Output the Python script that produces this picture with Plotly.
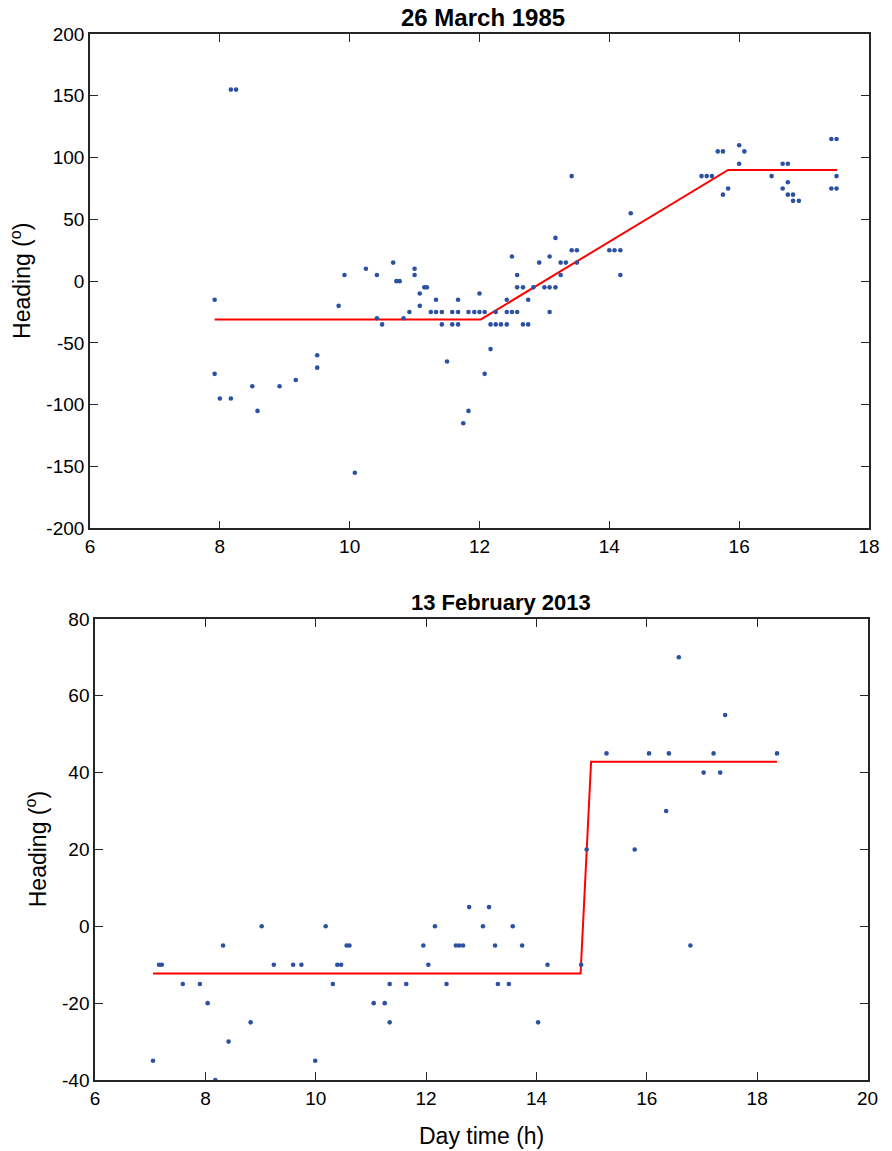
import plotly.graph_objects as go

# ---- Panel 1: 26 March 1985 ----
t1985 = [8.17, 8.25, 7.92, 7.92, 8.00, 8.17, 8.50, 8.58, 8.92, 9.17, 9.50, 9.50,
         9.83, 9.92, 10.08, 10.25, 10.42, 10.42, 10.50, 10.67, 10.72, 10.77, 10.83, 10.92,
         11.00, 11.00, 11.08, 11.08, 11.15, 11.19, 11.25, 11.33, 11.33, 11.42, 11.42, 11.50,
         11.58, 11.58, 11.67, 11.67, 11.67, 11.75, 11.83, 11.83, 11.92, 12.00, 12.00, 12.08,
         12.08, 12.17, 12.17, 12.25, 12.25, 12.33, 12.42, 12.42, 12.42, 12.50, 12.50, 12.58,
         12.58, 12.58, 12.67, 12.67, 12.75, 12.75, 12.83, 12.92, 13.00, 13.08, 13.08, 13.08,
         13.17, 13.17, 13.25, 13.25, 13.33, 13.42, 13.42, 13.50, 13.50, 14.00, 14.08, 14.17,
         14.17, 14.33, 15.42, 15.50, 15.58, 15.67, 15.75, 15.75, 15.83, 16.00, 16.00, 16.08,
         16.50, 16.67, 16.75, 16.67, 16.75, 16.75, 16.83, 16.83, 16.92, 17.42, 17.50, 17.50,
         17.42, 17.50]
h1985 = [155, 155, -15, -75, -95, -95, -85, -105, -85, -80, -60, -70,
         -20, 5, -155, 10, 5, -30, -35, 15, 0, 0, -30, -25,
         10, 5, -10, -20, -5, -5, -25, -15, -25, -25, -35, -65,
         -25, -35, -15, -25, -35, -115, -105, -25, -25, -10, -25, -25,
         -75, -35, -55, -25, -35, -35, -15, -25, -35, 20, -25, 5,
         -5, -25, -5, -35, -15, -35, -5, 15, -5, 20, -5, -25,
         35, -5, 15, 5, 15, 25, 85, 25, 15, 25, 25, 25,
         5, 55, 85, 85, 85, 105, 105, 70, 75, 110, 95, 105,
         85, 95, 95, 75, 80, 70, 70, 65, 65, 115, 115, 85,
         75, 75]
fit1985_t = [7.92, 12.02, 15.83, 17.51]
fit1985_h = [-31, -31, 90, 90]

# ---- Panel 2: 13 February 2013 ----
t2013 = [7.05, 7.16, 7.21, 7.59, 7.90, 8.04, 8.18, 8.32, 8.42, 8.82, 9.02, 9.24,
         9.59, 9.74, 9.99, 10.18, 10.31, 10.39, 10.46, 10.56, 10.61, 11.05, 11.25, 11.34,
         11.34, 11.64, 11.95, 12.04, 12.16, 12.37, 12.54, 12.60, 12.67, 12.78, 13.03, 13.14,
         13.25, 13.30, 13.50, 13.57, 13.74, 14.03, 14.20, 14.81, 14.91, 15.27, 15.78, 16.04,
         16.35, 16.40, 16.58, 16.79, 17.03, 17.21, 17.33, 17.42, 18.36]
h2013 = [-35, -10, -10, -15, -15, -20, -40, -5, -30, -25, 0, -10,
         -10, -10, -35, 0, -15, -10, -10, -5, -5, -20, -20, -15,
         -25, -15, -5, -10, 0, -15, -5, -5, -5, 5, 0, 5,
         -5, -15, -15, 0, -5, -25, -10, -10, 20, 45, 20, 45,
         30, 45, 70, -5, 40, 45, 40, 55, 45]
fit2013_t = [7.05, 14.80, 14.99, 18.36]
fit2013_h = [-12.3, -12.3, 42.8, 42.8]

x1_ticks = [6, 8, 10, 12, 14, 16, 18]
y1_ticks = [-200, -150, -100, -50, 0, 50, 100, 150, 200]
x2_ticks = [6, 8, 10, 12, 14, 16, 18, 20]
y2_ticks = [-40, -20, 0, 20, 40, 60, 80]

titles = ["26 March 1985", "13 February 2013"]
ylabel = "Heading (<sup>o</sup>)"
xlabel = "Day time (h)"

DOT = "#2b51a3"
FONT = "Liberation Sans, Arial, Helvetica, sans-serif"

fig = go.Figure()
fig.add_trace(go.Scatter(x=fit1985_t, y=fit1985_h, mode="lines",
                         line=dict(color="#ff0000", width=2), xaxis="x", yaxis="y"))
fig.add_trace(go.Scatter(x=t1985, y=h1985, mode="markers",
                         marker=dict(color=DOT, size=4.6), xaxis="x", yaxis="y"))
fig.add_trace(go.Scatter(x=fit2013_t, y=fit2013_h, mode="lines",
                         line=dict(color="#ff0000", width=2), xaxis="x2", yaxis="y2"))
fig.add_trace(go.Scatter(x=t2013, y=h2013, mode="markers",
                         marker=dict(color=DOT, size=4.6), xaxis="x2", yaxis="y2"))

common = dict(showline=True, linecolor="#262626", linewidth=1.6, mirror="ticks",
              ticks="inside", ticklen=8, tickwidth=1.4, tickcolor="#262626",
              showgrid=False, zeroline=False,
              tickfont=dict(family=FONT, size=19, color="#000000"))


def labels(vals):
    return [str(v) for v in vals]  # plain hyphen minus, as in the reference


W, H = 892, 1151
L, R, T, B = 90.2, 17, 34.3, H - 1080.5
pw = W - L - R
ph = H - T - B
top_dom = [1 - (528.7 - 34.3) / ph, 1.0]
bot_dom = [0.0, (1080.5 - 619.3) / ph]
bot_xdom = [(95.3 - L) / pw, (873.5 - L) / pw]

fig.update_layout(
    width=W, height=H,
    margin=dict(l=L, r=R, t=T, b=B),
    paper_bgcolor="white", plot_bgcolor="white",
    showlegend=False,
    font=dict(family=FONT, color="#000000"),
    xaxis=dict(common, domain=[0, 1], range=[6, 18], tickvals=x1_ticks,
               ticktext=labels(x1_ticks), anchor="y"),
    yaxis=dict(common, domain=top_dom, range=[-200, 200], tickvals=y1_ticks,
               ticktext=labels(y1_ticks), anchor="x"),
    xaxis2=dict(common, domain=bot_xdom, range=[6, 20], tickvals=x2_ticks,
                ticktext=labels(x2_ticks), anchor="y2"),
    yaxis2=dict(common, domain=bot_dom, range=[-40, 80], tickvals=y2_ticks,
                ticktext=labels(y2_ticks), anchor="x2"),
    annotations=[
        dict(text="<b>%s</b>" % titles[0], x=0.5, xref="paper", y=top_dom[1], yref="paper",
             yanchor="middle", showarrow=False, xshift=3, yshift=16.5,
             font=dict(family=FONT, size=24)),
        dict(text="<b>%s</b>" % titles[1], x=sum(bot_xdom) / 2, xref="paper", y=bot_dom[1],
             yref="paper", yanchor="middle", showarrow=False, xshift=20, yshift=16,
             font=dict(family=FONT, size=22)),
        dict(text=ylabel, x=0, xref="paper", y=sum(top_dom) / 2, yref="paper",
             xanchor="center", yanchor="middle", xshift=21 - L, textangle=-90,
             showarrow=False, font=dict(family=FONT, size=23)),
        dict(text=ylabel, x=0, xref="paper", y=sum(bot_dom) / 2, yref="paper",
             xanchor="center", yanchor="middle", xshift=37 - L, textangle=-90,
             showarrow=False, font=dict(family=FONT, size=23)),
        dict(text=xlabel, x=sum(bot_xdom) / 2, xref="paper", y=0, yref="paper",
             xanchor="center", yanchor="middle", yshift=-55.5,
             showarrow=False, font=dict(family=FONT, size=23)),
    ],
)

# Remove the browser's default 8px body margin so the figure fills the window exactly.
fig.write_html("out.html", config={"displayModeBar": False},
               post_script="document.body.style.margin='0';")
